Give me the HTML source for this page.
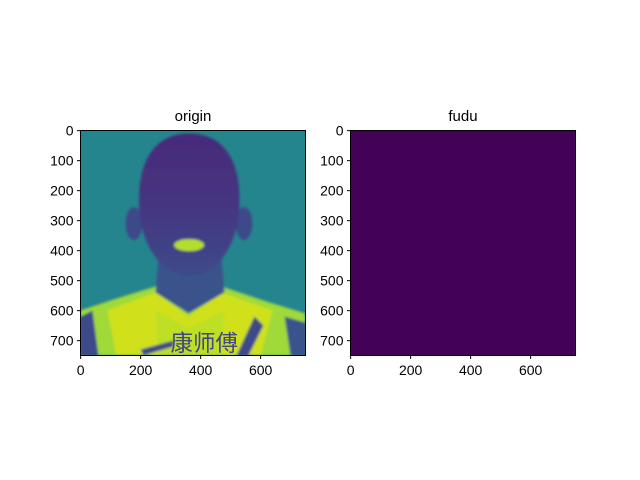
<!DOCTYPE html>
<html><head><meta charset="utf-8"><style>
body{margin:0;background:#fff;}
svg{display:block;font-family:"Liberation Sans","DejaVu Sans",sans-serif;}
</style></head><body>
<svg width="640" height="480" viewBox="0 0 640 480">
<defs>
<clipPath id="c1"><rect x="0" y="0" width="750" height="750"/></clipPath>
<filter id="bl"><feGaussianBlur stdDeviation="4"/></filter>
<linearGradient id="hg" x1="0" y1="0" x2="0" y2="1">
<stop offset="0" stop-color="#472a7a"/><stop offset="0.5" stop-color="#453581"/><stop offset="1" stop-color="#3e4a89"/>
</linearGradient>
</defs>
<text x="193" y="121" font-size="15" text-anchor="middle">origin</text>
<text x="463" y="121" font-size="15" text-anchor="middle">fudu</text>
<g transform="translate(80.5,130.5) scale(0.3)" clip-path="url(#c1)">
<rect width="750" height="750" fill="#25858e"/>
<g filter="url(#bl)">
<path d="M0,600 L120,560 L250,520 L470,520 L620,570 L750,610 L750,750 L0,750 Z" fill="#a0da39"/>
<path d="M90,600 L250,540 L360,620 L470,540 L640,600 L600,750 L120,750 Z" fill="#d0e11c"/>
<path d="M250,600 L360,660 L480,600 L470,750 L260,750 Z" fill="#bddf26"/>
<path d="M0,620 L40,600 L60,750 L0,750 Z" fill="#3e4a89"/>
<path d="M680,620 L750,640 L750,750 L700,750 Z" fill="#3b528b"/>
<path d="M200,730 L310,700 L310,720 L210,750 Z" fill="#3e4a89"/>
<path d="M580,620 L610,650 L560,750 L520,750 Z" fill="#3e4a89"/>
<path d="M260,420 L470,420 L480,540 L360,610 L250,540 Z" fill="#3b528b"/>
<ellipse cx="178" cy="310" rx="28" ry="55" fill="#3e4a89"/>
<ellipse cx="545" cy="310" rx="28" ry="55" fill="#3e4a89"/>
<path d="M362,10 C470,10 530,90 530,230 C530,380 460,480 362,485 C265,480 195,380 195,230 C195,90 255,10 362,10 Z" fill="url(#hg)"/>
<ellipse cx="362" cy="382" rx="50" ry="20" fill="#b5de2b"/>
</g>
<text x="300" y="735" font-size="75" fill="#404588" font-family="Noto Sans CJK SC, sans-serif">康师傅</text>
</g>
<g transform="translate(350.5,130.5) scale(0.3)">
<rect width="750" height="750" fill="#440256"/>
</g>
<rect x="80.5" y="130.5" width="225" height="225" fill="none" stroke="#000" stroke-width="1"/>
<rect x="350.5" y="130.5" width="225" height="225" fill="none" stroke="#000" stroke-width="1"/>
<g id="ticks" font-size="14"></g>
<script>
const tickValues=[0,100,200,300,400,500,600,700];
const xTickValues=[0,200,400,600];
const g=document.getElementById('ticks');
const NS='http://www.w3.org/2000/svg';
function mk(t,a){const e=document.createElementNS(NS,t);for(const k in a)e.setAttribute(k,a[k]);g.appendChild(e);return e;}
[80.5,350.5].forEach(function(x0){
 const sc=v=>0.3*(v+0.5);
 tickValues.forEach(function(v){
  const y=130.5+sc(v);
  const l=mk('line',{x1:x0-3.5,x2:x0,y1:y,y2:y,stroke:'#000'});
  
  
  const t=mk('text',{x:x0-7,y:y+5,'text-anchor':'end'});
  t.textContent=v;
  
  
 });
 xTickValues.forEach(function(v){
  const x=x0+sc(v);
  const l=mk('line',{x1:x,x2:x,y1:355.5,y2:359,stroke:'#000'});
  
  
  const t=mk('text',{x:x,y:375,'text-anchor':'middle'});
  t.textContent=v;
  
  
 });
});
</script>
</svg>
</body></html>
